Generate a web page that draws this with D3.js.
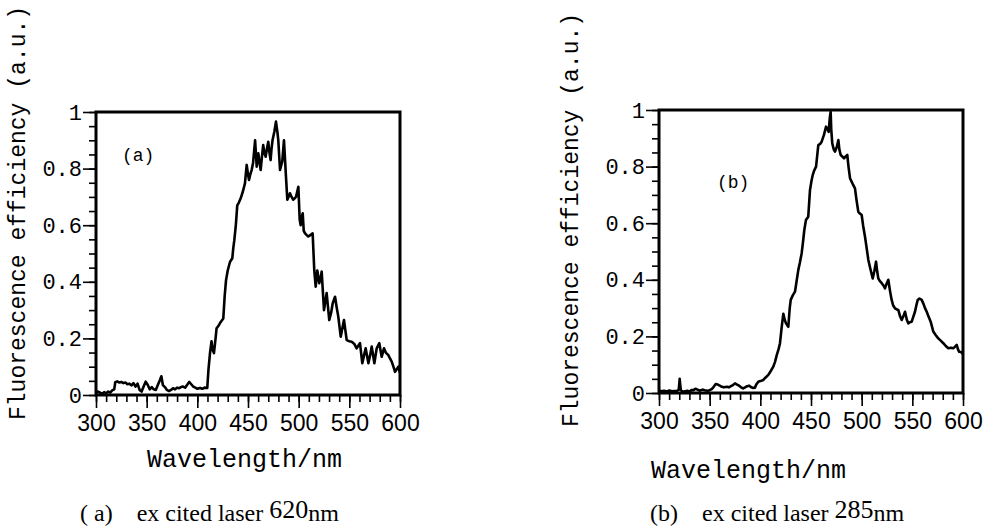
<!DOCTYPE html>
<html>
<head>
<meta charset="utf-8">
<script src="https://cdn.jsdelivr.net/npm/d3@7"></script>
<style>
    body { margin: 0; background: #fff; }
    svg { display: block; }
    .mono { font-family: "Courier New", "Liberation Mono", monospace; }
    .sans { font-family: "Liberation Sans", Arial, sans-serif; }
    .serif { font-family: "Liberation Serif", "Times New Roman", serif; white-space: pre; }
</style>
</head>
<body>
<svg id="canvas" width="986" height="531"></svg>
<script>
// Spectrum (a): excited by 620nm laser
const wavelengthA = [300, 302, 304, 306, 308, 310, 312, 314, 316, 318, 319, 321, 323, 325, 327, 329, 331, 333, 335, 337, 339, 341, 343, 345, 347, 349, 351, 353, 355, 357, 359, 361, 363, 364.5, 366, 368, 370, 372, 374, 376, 378, 380, 382, 384, 386, 388, 390, 392, 394, 396, 398, 400, 402.6, 405, 407, 409.8, 411, 412.5, 414, 415, 416.4, 418, 419, 421, 422.4, 424, 425.6, 427, 428.3, 430, 432.2, 434.5, 435.5, 436.5, 438, 439.4, 441, 442.8, 445, 447, 448.7, 450, 451, 452.3, 453.6, 455, 456, 457, 458.6, 460.2, 461.5, 462.5, 463.7, 465, 466, 467.4, 468.7, 470, 471, 472.3, 473.2, 474.2, 476, 477.6, 479, 479.9, 481.6, 482.7, 483.8, 485.5, 487.5, 488.8, 490, 491.4, 493, 494.7, 496, 497.4, 499.7, 501, 502, 503, 504, 505, 506.3, 508, 509.5, 511.5, 513.8, 515.4, 516.8, 518.4, 520.3, 521.5, 522.7, 525, 527.6, 530.2, 532, 533.6, 535.9, 537.5, 539.1, 541.5, 544.7, 547.4, 550, 552.3, 555, 557.2, 560.5, 562.8, 564.5, 566.1, 568.8, 570.5, 572.1, 574.7, 577, 579.6, 581.9, 584.2, 586, 588.5, 590, 591.8, 593.5, 595.1, 598.4, 600];
const efficiencyA = [0.006, 0.012, 0.008, 0.004, 0.01, 0.006, 0.012, 0.008, 0.016, 0.02, 0.045, 0.048, 0.044, 0.046, 0.042, 0.044, 0.038, 0.04, 0.034, 0.042, 0.03, 0.04, 0.018, 0.012, 0.03, 0.047, 0.036, 0.02, 0.028, 0.02, 0.018, 0.035, 0.052, 0.066, 0.035, 0.028, 0.018, 0.014, 0.018, 0.024, 0.02, 0.026, 0.024, 0.028, 0.03, 0.026, 0.036, 0.046, 0.038, 0.03, 0.026, 0.022, 0.025, 0.022, 0.026, 0.025, 0.09, 0.148, 0.19, 0.16, 0.148, 0.2, 0.236, 0.245, 0.254, 0.262, 0.27, 0.35, 0.405, 0.44, 0.47, 0.483, 0.52, 0.547, 0.6, 0.67, 0.68, 0.695, 0.72, 0.748, 0.813, 0.78, 0.76, 0.78, 0.795, 0.82, 0.86, 0.9, 0.807, 0.854, 0.82, 0.795, 0.84, 0.883, 0.86, 0.842, 0.87, 0.895, 0.86, 0.83, 0.87, 0.9, 0.93, 0.966, 0.93, 0.9, 0.795, 0.81, 0.825, 0.9, 0.77, 0.69, 0.7, 0.713, 0.7, 0.69, 0.695, 0.7, 0.736, 0.62, 0.6, 0.63, 0.642, 0.58, 0.571, 0.565, 0.56, 0.565, 0.571, 0.44, 0.383, 0.44, 0.395, 0.41, 0.436, 0.3, 0.36, 0.265, 0.29, 0.324, 0.347, 0.31, 0.277, 0.206, 0.265, 0.194, 0.19, 0.188, 0.18, 0.165, 0.183, 0.112, 0.14, 0.165, 0.112, 0.14, 0.171, 0.112, 0.165, 0.183, 0.135, 0.165, 0.15, 0.141, 0.13, 0.118, 0.1, 0.082, 0.1, 0.077];

// Spectrum (b): excited by 285nm laser
const wavelengthB = [300, 302, 305, 308, 310, 313, 315, 318, 319.5, 320.4, 321.5, 323, 325, 328, 330, 332, 334, 336, 338, 340, 343, 345, 348, 350, 352, 354, 356, 358, 360, 362, 364, 367, 369, 371, 373, 375, 377, 379, 381, 383, 385, 387, 389, 391, 393, 394.7, 396, 398, 400, 403, 405, 407.9, 410, 412.8, 414.5, 416.2, 418, 419.4, 421, 422.7, 424, 425.3, 427.6, 429, 430, 432, 434.2, 436, 437.5, 439, 440.8, 442, 443.4, 445, 447.3, 449, 450.5, 451.7, 453, 455, 457.2, 459, 460.5, 462.8, 464.8, 466, 467.4, 468.5, 469.4, 470, 471, 472.5, 473.7, 475.5, 477, 478, 479.3, 481, 482.6, 484, 485.8, 487, 488.5, 491, 493.4, 495, 496.7, 498, 500, 501.5, 503.3, 505, 506.6, 508.5, 510.9, 512.5, 514.2, 515.3, 516.4, 518, 519.8, 521.5, 523, 524.5, 526.3, 528, 529.6, 531, 532.9, 534.5, 536.2, 538, 539.5, 541, 542.8, 544.5, 546, 547.5, 549.4, 551, 552.6, 554, 555.3, 557, 559.2, 561, 562.5, 564.2, 566, 568.1, 570.7, 573, 575.6, 578, 580.6, 583, 585.5, 588, 590.4, 592, 593.8, 595, 596.1, 598, 600];
const efficiencyB = [0.01, 0.006, 0.008, 0.005, 0.009, 0.006, 0.007, 0.008, 0.012, 0.05, 0.01, 0.006, 0.005, 0.008, 0.005, 0.01, 0.01, 0.015, 0.012, 0.008, 0.012, 0.01, 0.008, 0.01, 0.014, 0.022, 0.032, 0.03, 0.026, 0.022, 0.02, 0.022, 0.02, 0.024, 0.028, 0.034, 0.03, 0.026, 0.02, 0.016, 0.02, 0.024, 0.026, 0.02, 0.018, 0.019, 0.03, 0.04, 0.042, 0.046, 0.054, 0.064, 0.076, 0.093, 0.11, 0.134, 0.155, 0.176, 0.23, 0.28, 0.26, 0.246, 0.234, 0.3, 0.329, 0.345, 0.358, 0.4, 0.435, 0.46, 0.494, 0.53, 0.576, 0.611, 0.623, 0.717, 0.75, 0.77, 0.785, 0.8, 0.876, 0.88, 0.888, 0.912, 0.941, 0.935, 0.923, 0.97, 0.994, 0.93, 0.882, 0.86, 0.853, 0.87, 0.894, 0.86, 0.841, 0.835, 0.829, 0.835, 0.841, 0.8, 0.759, 0.74, 0.723, 0.68, 0.64, 0.635, 0.629, 0.59, 0.552, 0.51, 0.47, 0.44, 0.405, 0.43, 0.464, 0.43, 0.405, 0.395, 0.388, 0.38, 0.37, 0.385, 0.4, 0.36, 0.329, 0.31, 0.299, 0.296, 0.293, 0.27, 0.258, 0.27, 0.287, 0.26, 0.246, 0.25, 0.252, 0.27, 0.287, 0.31, 0.329, 0.334, 0.329, 0.315, 0.3, 0.287, 0.27, 0.252, 0.217, 0.205, 0.193, 0.185, 0.176, 0.166, 0.158, 0.16, 0.158, 0.163, 0.17, 0.155, 0.146, 0.145, 0.138];

const majorTicksX = [300, 350, 400, 450, 500, 550, 600];
const minorTicksX = d3.range(300, 601, 10);
const majorTicksY = [0, 0.2, 0.4, 0.6, 0.8, 1];
const minorTicksY = d3.range(0, 1.0001, 0.05);

const panelTags = ["(a)", "(b)"];
const captionTags = ["( a)", "(b)"];
const laserLines = ["620", "285"];
const yTitle = "Fluorescence efficiency (a.u.)";
const xTitle = "Wavelength/nm";

const svg = d3.select("#canvas");

// layout of each panel (pixels)
const panels = [
    {
        xs: wavelengthA, ys: efficiencyA, tag: panelTags[0],
        caption: captionTags[0], laser: laserLines[0],
        left: 96, top: 112, width: 304, height: 283,
        tagX: 122, tagY: 161,
        yTitleX: 25, yTitleY: 213,
        xTitleX: 147, xTitleY: 467,
        capX: 80, capY: 521
    },
    {
        xs: wavelengthB, ys: efficiencyB, tag: panelTags[1],
        caption: captionTags[1], laser: laserLines[1],
        left: 659, top: 110, width: 304, height: 283,
        tagX: 717, tagY: 188,
        yTitleX: 578, yTitleY: 220,
        xTitleX: 651, xTitleY: 478,
        capX: 650, capY: 521
    }
];

function drawPanel(p) {
    const g = svg.append("g").attr("transform", `translate(${p.left}, ${p.top})`);

    const x = d3.scaleLinear().domain([300, 600]).range([0, p.width]);
    const y = d3.scaleLinear().domain([0, 1]).range([p.height, 0]);

    // minor ticks
    g.append("g")
        .attr("transform", `translate(0, ${p.height})`)
        .call(d3.axisBottom(x).tickValues(minorTicksX).tickSize(7).tickFormat(""))
        .call((a) => a.select(".domain").remove());
    g.append("g")
        .call(d3.axisLeft(y).tickValues(minorTicksY).tickSize(7).tickFormat(""))
        .call((a) => a.select(".domain").remove());

    // major ticks with labels
    const xAxis = g.append("g")
        .attr("transform", `translate(0, ${p.height})`)
        .call(d3.axisBottom(x).tickValues(majorTicksX).tickSize(13).tickPadding(7).tickFormat(d3.format("d")));
    xAxis.select(".domain").remove();
    xAxis.selectAll("text").attr("class", "sans").attr("font-size", 23).attr("fill", "#000");

    const yAxis = g.append("g")
        .call(d3.axisLeft(y).tickValues(majorTicksY).tickSize(13).tickPadding(1)
            .tickFormat((d) => (d === 0 || d === 1 ? String(d) : d3.format(".1f")(d))));
    yAxis.select(".domain").remove();
    yAxis.selectAll("text").attr("class", "mono").attr("font-size", 22).attr("fill", "#000");

    g.selectAll(".tick line").attr("stroke", "#000").attr("stroke-width", 1.6);

    // curve
    const line = d3.line()
        .x((d, i) => x(p.xs[i]))
        .y((d) => y(d));
    g.append("path")
        .datum(p.ys)
        .attr("d", line)
        .attr("fill", "none")
        .attr("stroke", "#000")
        .attr("stroke-width", 2.6)
        .attr("stroke-linejoin", "round");

    // frame
    g.append("rect")
        .attr("width", p.width)
        .attr("height", p.height)
        .attr("fill", "none")
        .attr("stroke", "#000")
        .attr("stroke-width", 3);

    g.append("text")
        .attr("class", "mono")
        .attr("x", p.tagX - p.left)
        .attr("y", p.tagY - p.top)
        .attr("font-size", 18)
        .text(p.tag);

    svg.append("text")
        .attr("class", "mono")
        .attr("transform", `translate(${p.yTitleX}, ${p.yTitleY}) rotate(-90)`)
        .attr("text-anchor", "middle")
        .attr("font-size", 23)
        .text(yTitle);

    svg.append("text")
        .attr("class", "mono")
        .attr("x", p.xTitleX)
        .attr("y", p.xTitleY)
        .attr("font-size", 25)
        .text(xTitle);

    const cap = svg.append("text")
        .attr("class", "serif")
        .attr("x", p.capX)
        .attr("y", p.capY)
        .attr("font-size", 24);
    cap.append("tspan").text(p.caption);
    cap.append("tspan").attr("dx", 24).text("ex cited laser ");
    cap.append("tspan").attr("dy", -3).attr("font-size", 26).text(p.laser);
    cap.append("tspan").attr("dy", 3).text("nm");
}

panels.forEach(drawPanel);
</script>
</body>
</html>
